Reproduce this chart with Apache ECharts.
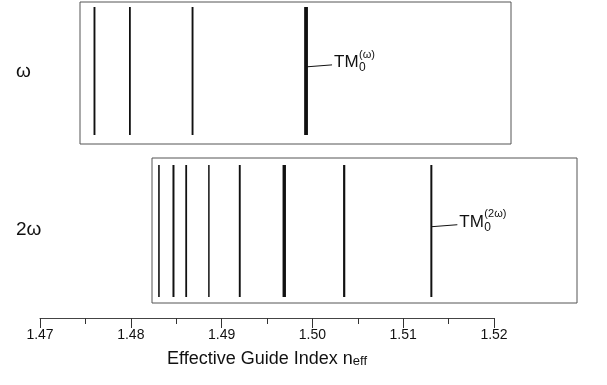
<!DOCTYPE html>
<html>
<head>
<meta charset="utf-8">
<script src="https://cdn.jsdelivr.net/npm/echarts@6/dist/echarts.min.js"></script>
<style>html,body{margin:0;padding:0;background:#fff}#c{width:607px;height:385px}</style>
</head>
<body>
<div id="c"></div>
<script>
// ---- data ----
const xTicks = [1.47, 1.48, 1.49, 1.50, 1.51, 1.52];
const bandNames = ['ω', '2ω'];
// effective indices of guided modes at the fundamental (ω)
const modesOmega = [1.4760, 1.4799, 1.4868, 1.4993];
// effective indices of guided modes at the second harmonic (2ω)
const modes2Omega = [1.4831, 1.4847, 1.4861, 1.4886, 1.4920, 1.4969, 1.5035, 1.5131];
// labelled mode: [base, subscript, superscript, index in series]
const labelOmega = ['TM', '0', '(ω)', 3];
const label2Omega = ['TM', '0', '(2ω)', 7];
const axisTitle = ['Effective Guide Index n', 'eff'];

// ---- styling (not data) ----
const widthsOmega = [1.9, 1.8, 1.9, 3.8];
const widths2Omega = [1.6, 2.0, 1.8, 1.5, 1.9, 3.4, 2.2, 2.0];
const FONT = "'Liberation Sans', Arial, sans-serif";
const INK = '#111';

const chart = echarts.init(document.getElementById('c'), null, {renderer: 'canvas'});

const AX_LEFT = 40, AX_RIGHT = 113;

function modeRenderer(widths, lab) {
  return function (params, api) {
    const v = api.value(0);
    const p0 = api.coord([v, 0]);
    const p1 = api.coord([v, 1]);
    const children = [{
      type: 'line',
      shape: {x1: p0[0], y1: p0[1], x2: p1[0], y2: p1[1]},
      style: {stroke: INK, lineWidth: widths[params.dataIndex]}
    }];
    if (params.dataIndex === lab[3]) {
      const pm = api.coord([v, 0.54]);
      const pt = api.coord([v, 0.565]);
      const x = p0[0];
      children.push({
        type: 'line',
        shape: {x1: x, y1: pm[1] + 1, x2: x + 26, y2: pm[1] - 1},
        style: {stroke: INK, lineWidth: 1}
      });
      children.push({
        type: 'text',
        style: {text: lab[0], x: x + 28, y: pt[1], fontSize: 17, fontFamily: FONT,
                fill: INK, verticalAlign: 'middle', align: 'left'}
      });
      children.push({
        type: 'text',
        style: {text: lab[1], x: x + 53, y: pt[1] + 5, fontSize: 12, fontFamily: FONT,
                fill: INK, verticalAlign: 'middle', align: 'left'}
      });
      children.push({
        type: 'text',
        style: {text: lab[2], x: x + 53, y: pt[1] - 8, fontSize: 11, fontFamily: FONT,
                fill: INK, verticalAlign: 'middle', align: 'left'}
      });
    }
    return {type: 'group', children: children};
  };
}

const hiddenX = (gi) => ({
  type: 'value', gridIndex: gi, min: xTicks[0], max: xTicks[xTicks.length - 1],
  interval: 0.01, show: false
});
const hiddenY = (gi) => ({type: 'value', gridIndex: gi, min: 0, max: 1, show: false});

chart.setOption({
  animation: false,
  backgroundColor: '#fff',
  grid: [
    {left: AX_LEFT, right: AX_RIGHT, top: 7, height: 128},
    {left: AX_LEFT, right: AX_RIGHT, top: 165, height: 132},
    {left: AX_LEFT, right: AX_RIGHT, top: 317, height: 1}
  ],
  xAxis: [
    hiddenX(0),
    hiddenX(1),
    {
      type: 'value', gridIndex: 2, position: 'bottom',
      min: xTicks[0], max: xTicks[xTicks.length - 1], interval: 0.01,
      axisLine: {show: true, lineStyle: {color: '#444', width: 1}},
      axisTick: {show: true, length: 10, inside: false, lineStyle: {color: '#333', width: 1}},
      minorTick: {show: true, splitNumber: 2, length: 6, lineStyle: {color: '#333', width: 1}},
      splitLine: {show: false},
      axisLabel: {
        margin: 10, fontSize: 14, fontFamily: FONT, color: '#111',
        formatter: (v) => {
          const t = xTicks.find(k => Math.abs(k - v) < 1e-6);
          return t === undefined ? '' : t.toFixed(2);
        }
      },
      name: '{a|' + axisTitle[0] + '}{b|' + axisTitle[1] + '}',
      nameLocation: 'middle',
      nameGap: 32,
      nameTextStyle: {
        fontFamily: FONT, color: '#111',
        rich: {
          a: {fontSize: 18, fontFamily: FONT, color: '#111', lineHeight: 18, verticalAlign: 'top'},
          b: {fontSize: 13, fontFamily: FONT, color: '#111', lineHeight: 13, verticalAlign: 'bottom', padding: [12, 0, 0, 0]}
        }
      }
    }
  ],
  yAxis: [hiddenY(0), hiddenY(1), hiddenY(2)],
  graphic: [
    {type: 'rect', shape: {x: 80, y: 2, width: 431, height: 142}, silent: true,
     style: {fill: 'none', stroke: '#555', lineWidth: 1}},
    {type: 'rect', shape: {x: 152, y: 158, width: 425, height: 145}, silent: true,
     style: {fill: 'none', stroke: '#555', lineWidth: 1}},
    {type: 'text', x: 16, y: 72, silent: true,
     style: {text: bandNames[0], fontSize: 19, fontFamily: FONT, fill: INK, verticalAlign: 'middle'}},
    {type: 'text', x: 16, y: 230, silent: true,
     style: {text: bandNames[1], fontSize: 19, fontFamily: FONT, fill: INK, verticalAlign: 'middle'}}
  ],
  series: [
    {
      type: 'custom', xAxisIndex: 0, yAxisIndex: 0, silent: true,
      data: modesOmega.map(v => [v]),
      encode: {x: 0},
      renderItem: modeRenderer(widthsOmega, labelOmega)
    },
    {
      type: 'custom', xAxisIndex: 1, yAxisIndex: 1, silent: true,
      data: modes2Omega.map(v => [v]),
      encode: {x: 0},
      renderItem: modeRenderer(widths2Omega, label2Omega)
    }
  ]
});
</script>
</body>
</html>
